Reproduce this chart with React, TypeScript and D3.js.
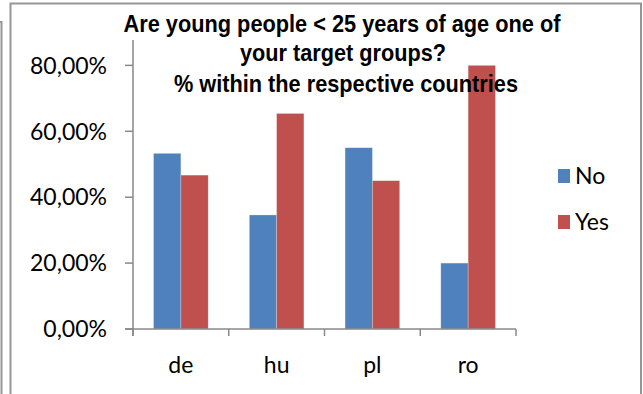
import React from "react";
import * as d3 from "d3";

const categories = ["de", "hu", "pl", "ro"];
const seriesNames = ["No", "Yes"];
const noValues = [0.533, 0.346, 0.55, 0.2];
const yesValues = [0.467, 0.654, 0.45, 0.8];
const yTicks = [0, 0.2, 0.4, 0.6, 0.8];
const titleLines = [
  "Are young people < 25 years of age one of",
  "your target groups?",
  "% within the respective countries",
];

const W = 643;
const H = 394;
const colors: Record<string, string> = { No: "#4F81BD", Yes: "#C0504D" };
const axisColor = "#888888";
const frameColor = "#969696";

const locale = d3.formatLocale({
  decimal: ",",
  thousands: ".",
  grouping: [3],
  currency: ["", "€"],
});
const pct = locale.format(".2%");

export default function App() {
  const left = 133;
  const right = 516;
  const bottom = 329;
  const top = 40;

  const x0 = d3.scaleBand<string>().domain(categories).range([left, right]);
  const x1 = d3
    .scaleBand<string>()
    .domain(seriesNames)
    .range([0, x0.bandwidth()])
    .paddingInner(0)
    .paddingOuter(0.754);
  const y = d3.scaleLinear().domain([0, 0.877]).range([bottom, top]);

  const rows = categories.map((c, i) => ({
    cat: c,
    vals: [
      { key: "No", v: noValues[i] },
      { key: "Yes", v: yesValues[i] },
    ],
  }));

  const boundaries = [...categories.map((c) => x0(c) as number), right];
  const labelFont = "Lato, 'Open Sans', 'Liberation Sans', sans-serif";
  const titleFont = "'Liberation Sans Narrow', 'Liberation Sans', Arial, sans-serif";
  const titleWidths = [437, 206, 344];
  const titleCenters = [342, 343, 346];
  const titleBaselines = [32, 61, 92];

  return (
    <svg
      width={W}
      height={H}
      style={{ position: "absolute", left: 0, top: 0, background: "#fff" }}
    >
      {/* frames */}
      <path
        d={`M1.5,${H} V22 H0`}
        fill="none"
        stroke={frameColor}
        strokeWidth={2}
      />
      <path
        d={`M10.5,${H} V3.5 H641 V${H}`}
        fill="none"
        stroke={frameColor}
        strokeWidth={2}
      />

      {/* bars */}
      {rows.map((r) => (
        <g key={r.cat} transform={`translate(${x0(r.cat)},0)`}>
          {r.vals.map((d) => (
            <rect
              key={d.key}
              x={x1(d.key)}
              y={y(d.v)}
              width={x1.bandwidth()}
              height={bottom - y(d.v)}
              fill={colors[d.key]}
              stroke="#e6ecf4"
              strokeOpacity={0.5}
              strokeWidth={0.6}
            />
          ))}
        </g>
      ))}

      {/* y axis */}
      <line x1={left} x2={left} y1={top} y2={bottom + 7} stroke={axisColor} strokeWidth={1.5} />
      {yTicks.map((t) => (
        <g key={t}>
          <line x1={left - 8} x2={left} y1={y(t)} y2={y(t)} stroke={axisColor} strokeWidth={1.5} />
          <text
            x={107}
            y={y(t)}
            dy="0.36em"
            textAnchor="end"
            fontFamily={labelFont}
            fontSize={23}
            fill="#000"
          >
            {pct(t)}
          </text>
        </g>
      ))}

      {/* x axis */}
      <line x1={left - 8} x2={right} y1={bottom} y2={bottom} stroke={axisColor} strokeWidth={1.5} />
      {boundaries.map((b, i) => (
        <line key={i} x1={b} x2={b} y1={bottom} y2={bottom + 7} stroke={axisColor} strokeWidth={1.5} />
      ))}
      {categories.map((c) => (
        <text
          key={c}
          x={(x0(c) as number) + x0.bandwidth() / 2}
          y={373}
          textAnchor="middle"
          fontFamily={labelFont}
          fontSize={23}
          fill="#000"
        >
          {c}
        </text>
      ))}

      {/* title */}
      {titleLines.map((line, i) => (
        <text
          key={i}
          x={titleCenters[i]}
          y={titleBaselines[i]}
          textAnchor="middle"
          fontFamily={titleFont}
          fontWeight="bold"
          fontSize={24}
          textLength={titleWidths[i]}
          lengthAdjust="spacingAndGlyphs"
          fill="#000"
        >
          {line}
        </text>
      ))}

      {/* legend */}
      {seriesNames.map((s, i) => (
        <g key={s} transform={`translate(558,${176 + i * 46})`}>
          <rect x={0} y={-7} width={12} height={14} fill={colors[s]} />
          <text x={17} y={0} dy="0.36em" fontFamily={labelFont} fontSize={23} fill="#000">
            {s}
          </text>
        </g>
      ))}
    </svg>
  );
}
